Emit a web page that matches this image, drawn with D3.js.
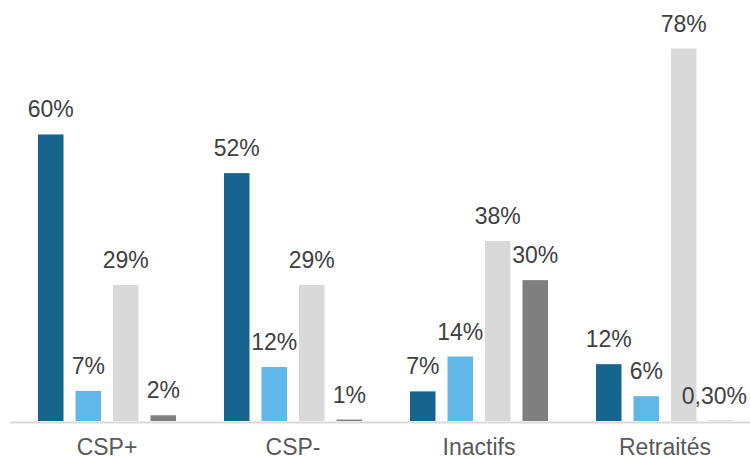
<!DOCTYPE html>
<html>
<head>
<meta charset="utf-8">
<script src="https://cdn.jsdelivr.net/npm/d3@7"></script>
<style>
  body { margin: 0; background: #fff; }
  svg { display: block; font-family: "Liberation Sans", Arial, sans-serif; }
</style>
</head>
<body>
<svg id="chart" width="750" height="462"></svg>
<script>
const categories = ["CSP+", "CSP-", "Inactifs", "Retraités"];
const series = ["s1", "s2", "s3", "s4"];
const colors = ["#17648f", "#60b8e8", "#d9d9d9", "#7f7f7f"];

// values (percent)
const s1Values = [60, 51.9, 6.2, 11.9];
const s2Values = [6.3, 11.3, 13.5, 5.2];
const s3Values = [28.5, 28.5, 37.7, 78];
const s4Values = [1.2, 0.3, 29.5, 0.05];

// data labels as printed on the chart
const s1Labels = ["60%", "52%", "7%", "12%"];
const s2Labels = ["7%", "12%", "14%", "6%"];
const s3Labels = ["29%", "29%", "38%", "78%"];
const s4Labels = ["2%", "1%", "30%", "0,30%"];

const allValues = [s1Values, s2Values, s3Values, s4Values];
const allLabels = [s1Labels, s2Labels, s3Labels, s4Labels];

const width = 750, height = 462;
const baseline = 421;

const svg = d3.select("#chart");

const x0 = d3.scaleBand()
    .domain(categories)
    .range([14, 758]);

const x1 = d3.scaleBand()
    .domain(series)
    .range([24, x0.bandwidth() - 24])
    .paddingInner(0.32);

const y = d3.scaleLinear()
    .domain([0, 78])
    .range([baseline, 48.5]);

const data = [];
categories.forEach((c, i) => {
    series.forEach((s, j) => {
        data.push({ cat: c, ser: s, value: allValues[j][i], label: allLabels[j][i], color: colors[j] });
    });
});

// axis line
const xAxisG = svg.append("g")
    .attr("transform", `translate(0,${baseline + 1.5})`)
    .call(d3.axisBottom(x0).tickSize(0).tickPadding(16));
xAxisG.select(".domain")
    .attr("d", "M10,0H760")
    .attr("stroke", "#d9d9d9")
    .attr("stroke-width", 2);
xAxisG.selectAll("text")
    .attr("font-size", "23px")
    .attr("fill", "#595959")
    .attr("font-family", "'Liberation Sans', Arial, sans-serif");

const groups = svg.selectAll(".grp")
    .data(categories)
    .enter().append("g")
    .attr("class", "grp")
    .attr("transform", d => `translate(${x0(d)},0)`);

groups.selectAll("rect")
    .data(c => data.filter(d => d.cat === c))
    .enter().append("rect")
    .attr("x", d => x1(d.ser))
    .attr("width", x1.bandwidth())
    .attr("y", d => y(d.value))
    .attr("height", d => baseline - y(d.value))
    .attr("fill", d => d.color);

const labels = groups.selectAll("text.lbl")
    .data(c => data.filter(d => d.cat === c))
    .enter().append("text")
    .attr("class", "lbl")
    .attr("x", d => x1(d.ser) + x1.bandwidth() / 2)
    .attr("y", d => y(d.value) - 17)
    .attr("text-anchor", "middle")
    .attr("font-size", "23px")
    .attr("fill", "#404040")
    .text(d => d.label);

// keep labels inside the picture, like the original does for 0,30%
labels.each(function (d) {
    const el = d3.select(this);
    const box = this.getBBox();
    const offset = x0(d.cat);
    const right = offset + box.x + box.width;
    if (right > width - 3) {
        el.attr("x", +el.attr("x") - (right - (width - 3)));
    }
});
</script>
</body>
</html>
